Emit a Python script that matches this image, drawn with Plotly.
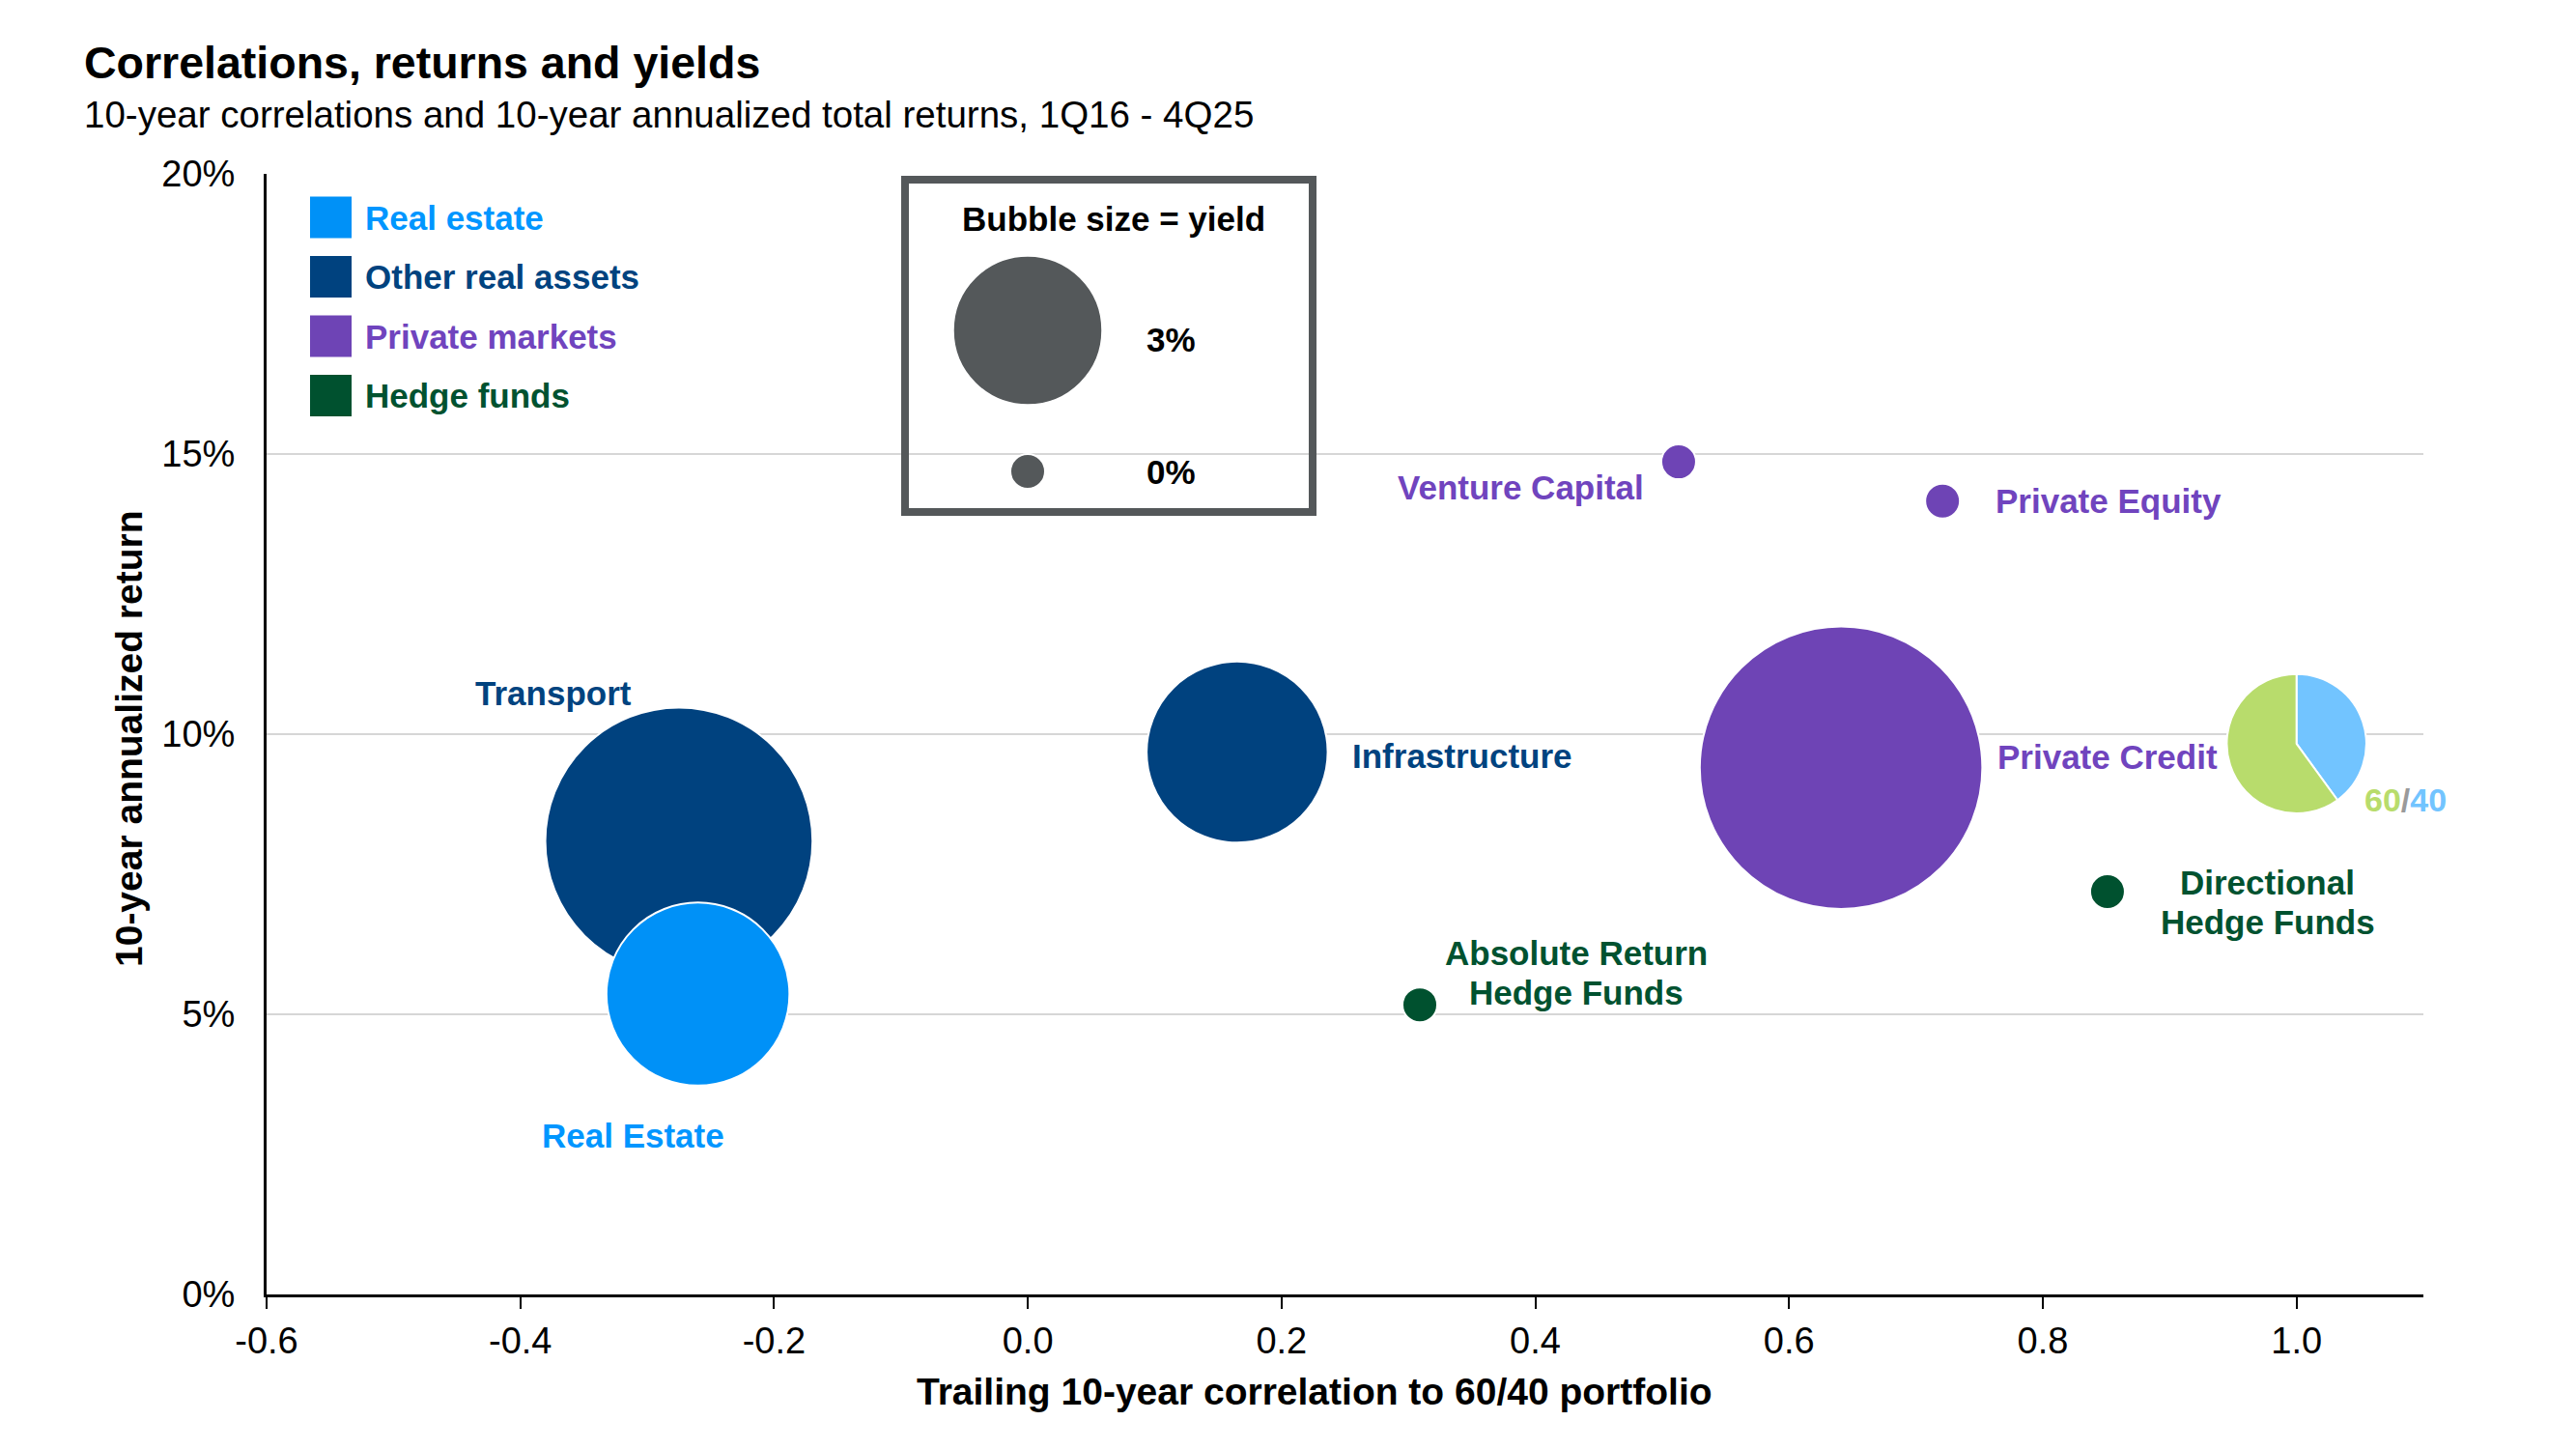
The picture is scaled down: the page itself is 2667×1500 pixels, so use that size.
import math
import plotly.graph_objects as go

# ---------------- data ----------------
asset_names = ["Transport", "Real Estate", "Infrastructure", "Private Credit",
               "Venture Capital", "Private Equity",
               "Absolute Return<br>Hedge Funds", "Directional<br>Hedge Funds"]
asset_groups = ["Other real assets", "Real estate", "Other real assets", "Private markets",
                "Private markets", "Private markets", "Hedge funds", "Hedge funds"]
correlation = [-0.275, -0.26, 0.165, 0.641, 0.513, 0.721, 0.309, 0.851]
annual_return = [8.09, 5.36, 9.68, 9.40, 14.86, 14.16, 5.17, 7.19]
yield_pct = [10.0, 4.6, 4.5, 11.2, 0.0, 0.0, 0.0, 0.0]

portfolio_label = ["60", "/", "40"]
portfolio_correlation = 1.0
portfolio_return = 9.83
portfolio_yield = 2.6
portfolio_slices = ["Bonds", "Equities"]
portfolio_weights = [40, 60]

legend_groups = ["Real estate", "Other real assets", "Private markets", "Hedge funds"]
size_legend_yields = [3, 0]
size_legend_labels = ["3%", "0%"]

x_ticks = [-0.6, -0.4, -0.2, 0.0, 0.2, 0.4, 0.6, 0.8, 1.0]
y_ticks = [0, 5, 10, 15, 20]
y_tick_labels = ["0%", "5%", "10%", "15%", "20%"]

title = "Correlations, returns and yields"
subtitle = "10-year correlations and 10-year annualized total returns, 1Q16 - 4Q25"
x_title = "Trailing 10-year correlation to 60/40 portfolio"
y_title = "10-year annualized return"
size_legend_title = "Bubble size = yield"

# ---------------- style ----------------
W, H = 2667, 1500
M_L, M_R, M_T, M_B = 276, 158, 180, 160
PW = W - M_L - M_R
PH = H - M_T - M_B
X_RANGE = [-0.6, 1.1]
Y_RANGE = [0, 20]
FONT = "Arial, 'Liberation Sans', sans-serif"

group_colors = {
    "Real estate": "#0091F7",
    "Other real assets": "#00427F",
    "Private markets": "#6E44B5",
    "Hedge funds": "#00512F",
}
label_colors = {
    "Real estate": "#0096FF",
    "Other real assets": "#00437F",
    "Private markets": "#7044BE",
    "Hedge funds": "#005230",
}
slice_colors = ["#72C4FF", "#B8DC6C"]
portfolio_label_colors = ["#B8DC6C", "#9A9A9A", "#72C4FF"]
GREY = "#54585A"
LINE_GAP = 41  # px between lines of a two-line label

# label offsets (px) relative to bubble centre
label_pos = {
    "Transport": (-130, 153, "center"),
    "Real Estate": (-67, -146, "center"),
    "Infrastructure": (117, -4, "left"),
    "Private Credit": (160, 11, "left"),
    "Venture Capital": (-34, -26, "right"),
    "Private Equity": (53, 0, "left"),
    "Absolute Return<br>Hedge Funds": (162, 33, "center"),
    "Directional<br>Hedge Funds": (166, -11, "center"),
}


def bubble_diameter(y):
    return math.sqrt(36 ** 2 + 7525 * y)


def pxx(p):
    return (p - M_L) / PW


def pxy(p):
    return 1 - (p - M_T) / PH


fig = go.Figure()

# bubbles
fig.add_trace(go.Scatter(
    x=correlation, y=annual_return, mode="markers",
    marker=dict(size=[bubble_diameter(v) for v in yield_pct],
                color=[group_colors[g] for g in asset_groups],
                line=dict(color="white", width=2), opacity=1),
    hoverinfo="skip", showlegend=False, cliponaxis=False,
))

# 60/40 pie
cx = (portfolio_correlation - X_RANGE[0]) / (X_RANGE[1] - X_RANGE[0])
cy = (portfolio_return - Y_RANGE[0]) / (Y_RANGE[1] - Y_RANGE[0])
r = bubble_diameter(portfolio_yield) / 2
fig.add_trace(go.Pie(
    labels=portfolio_slices, values=portfolio_weights, sort=False,
    direction="clockwise", rotation=0,
    marker=dict(colors=slice_colors, line=dict(color="white", width=2)),
    textinfo="none", hoverinfo="skip", showlegend=False,
    domain=dict(x=[cx - r / PW, cx + r / PW], y=[cy - r / PH, cy + r / PH]),
))

# size legend circles on an overlay paper-like axis
size_leg_y = [pxy(342), pxy(488)]
fig.add_trace(go.Scatter(
    x=[pxx(1064)] * len(size_legend_yields), y=size_leg_y, mode="markers",
    marker=dict(size=[bubble_diameter(v) for v in size_legend_yields], color=GREY,
                line=dict(color="white", width=2), opacity=1),
    xaxis="x2", yaxis="y2", hoverinfo="skip", showlegend=False,
))

annotations = []
shapes = []

# bubble labels (multi-line labels are split so line spacing can be controlled)
for n, g, xv, yv in zip(asset_names, asset_groups, correlation, annual_return):
    dx, dy, anc = label_pos[n]
    lines = n.split("<br>")
    k = len(lines)
    for i, line in enumerate(lines):
        off = ((k - 1) / 2 - i) * LINE_GAP
        annotations.append(dict(
            x=xv, y=yv, xref="x", yref="y", text=line, showarrow=False,
            xshift=dx, yshift=dy + off, xanchor=anc, yanchor="middle", align="center",
            font=dict(family=FONT, size=35, color=label_colors[g], weight="bold"),
        ))

# 60/40 label
annotations.append(dict(
    x=portfolio_correlation, y=portfolio_return, xref="x", yref="y",
    text="".join(f"<span style='color:{c}'>{t}</span>" for t, c in zip(portfolio_label, portfolio_label_colors)),
    showarrow=False, xshift=68, yshift=-58, xanchor="left", yanchor="middle",
    font=dict(family=FONT, size=34, weight="bold"),
))

# group legend
for i, g in enumerate(legend_groups):
    yc = 225 + i * 61.5
    shapes.append(dict(type="rect", xref="paper", yref="paper",
                       x0=pxx(321), x1=pxx(364), y0=pxy(yc + 21.5), y1=pxy(yc - 21.5),
                       fillcolor=group_colors[g], line=dict(width=0), layer="above"))
    annotations.append(dict(
        x=pxx(376), y=pxy(yc), xref="paper", yref="paper", text=g, showarrow=False,
        xanchor="left", yanchor="middle",
        font=dict(family=FONT, size=35, color=label_colors[g], weight="bold"),
    ))

# size legend box
shapes.append(dict(type="rect", xref="paper", yref="paper",
                   x0=pxx(937), x1=pxx(1359), y0=pxy(530), y1=pxy(186),
                   line=dict(color=GREY, width=8), fillcolor="rgba(0,0,0,0)", layer="above"))
annotations.append(dict(
    x=pxx(1153), y=pxy(226), xref="paper", yref="paper", text=size_legend_title,
    showarrow=False, xanchor="center", yanchor="middle",
    font=dict(family=FONT, size=35, color="black", weight="bold"),
))
for lbl, yc in zip(size_legend_labels, [352, 488]):
    annotations.append(dict(
        x=pxx(1185), y=pxy(yc), xref="paper", yref="paper", text=lbl,
        showarrow=False, xanchor="left", yanchor="middle",
        font=dict(family=FONT, size=35, color="black", weight="bold"),
    ))

# titles
annotations.append(dict(
    x=pxx(85), y=pxy(65), xref="paper", yref="paper", text=title, showarrow=False,
    xanchor="left", yanchor="middle",
    font=dict(family=FONT, size=46.5, color="black", weight="bold"),
))
annotations.append(dict(
    x=pxx(85), y=pxy(118), xref="paper", yref="paper", text=subtitle, showarrow=False,
    xanchor="left", yanchor="middle",
    font=dict(family=FONT, size=38.5, color="black"),
))
annotations.append(dict(
    x=pxx(1361), y=pxy(1440), xref="paper", yref="paper", text=x_title, showarrow=False,
    xanchor="center", yanchor="middle",
    font=dict(family=FONT, size=39, color="black", weight="bold"),
))
annotations.append(dict(
    x=pxx(133), y=pxy(765), xref="paper", yref="paper", text=y_title, showarrow=False,
    xanchor="center", yanchor="middle", textangle=-90,
    font=dict(family=FONT, size=39, color="black", weight="bold"),
))

fig.update_layout(
    width=W, height=H, autosize=False,
    margin=dict(l=M_L, r=M_R, t=M_T, b=M_B, pad=0),
    paper_bgcolor="white", plot_bgcolor="white",
    font=dict(family=FONT, color="black"),
    xaxis=dict(range=X_RANGE, tickvals=x_ticks, ticktext=[f"{v:.1f}" for v in x_ticks],
               showgrid=False, zeroline=False, showline=True, linecolor="black", linewidth=3,
               ticks="outside", ticklen=12, tickwidth=2, tickcolor="black",
               tickfont=dict(family=FONT, size=38, color="black"), ticklabelstandoff=0),
    yaxis=dict(range=Y_RANGE, tickvals=y_ticks, ticktext=y_tick_labels,
               showgrid=True, gridcolor="#D6D6D6", gridwidth=2, zeroline=False,
               showline=True, linecolor="black", linewidth=3, ticks="",
               tickfont=dict(family=FONT, size=38, color="black"), ticklabelstandoff=22),
    xaxis2=dict(range=[0, 1], overlaying="x", visible=False, anchor="y2"),
    yaxis2=dict(range=[0, 1], overlaying="y", visible=False, anchor="x2"),
    annotations=annotations, shapes=shapes,
)

fig.write_html("out.html")
